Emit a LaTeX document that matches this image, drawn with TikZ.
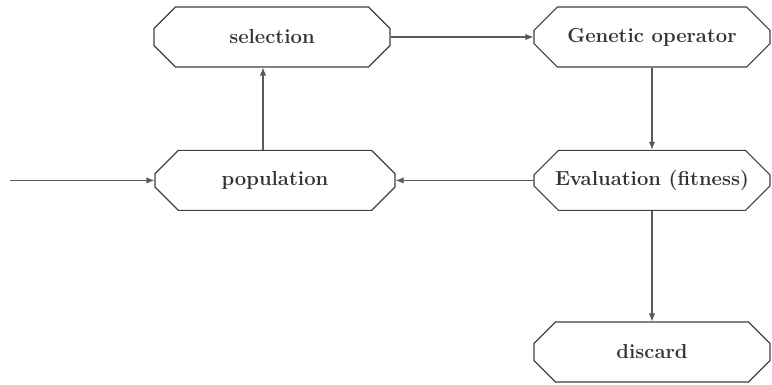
\documentclass[tikz,border=0pt]{standalone}
\usepackage{tikz}
\usetikzlibrary{arrows.meta, positioning, shapes.misc}

\begin{document}
\begin{tikzpicture}[
    stagebox/.style={draw=black!75, thick, fill=white, chamfered rectangle,
      chamfered rectangle xsep=0.45cm, chamfered rectangle ysep=0.36cm,
      minimum width=5.9cm, minimum height=1.5cm, inner sep=0pt,
      font=\Large\bfseries, text=black!80},
    flow/.style={draw=black!65, thick, -{Latex[length=2mm, width=1.6mm]}}
  ]
  \useasboundingbox (0,0) rectangle (19.3,9.6);

  % Etapes
  \node[stagebox] (sel) at (6.8,8.675) {selection};
  \node[stagebox] (gen) at (16.3,8.675) {Genetic operator};
  \node[stagebox, minimum width=6.0cm] (pop) at (6.875,5.09) {population};
  \node[stagebox] (eval) at (16.3,5.09) {Evaluation (fitness)};
  \node[stagebox] (disc) at (16.3,0.8) {discard};
  \coordinate (start) at (0.25,5.09);

  % Liens
  \draw[flow] (start) -- (pop.west);
  \draw[flow] ([xshift=-3mm]pop.north) -- ([xshift=-3mm]pop.north |- sel.south);
  \draw[flow] (sel.east) -- (gen.west);
  \draw[flow] (gen.south) -- (eval.north);
  \draw[flow] (eval.west) -- (pop.east);
  \draw[flow] (eval.south) -- (disc.north);
\end{tikzpicture}
\end{document}
